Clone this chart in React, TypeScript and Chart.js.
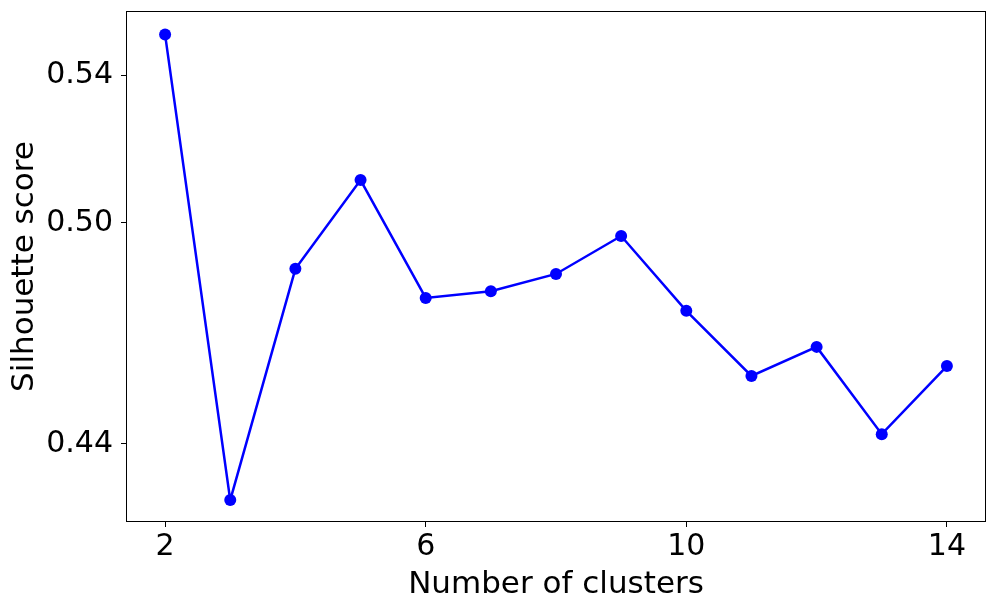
import React, { useEffect, useRef } from "react";
import { Chart, registerables } from "chart.js";

Chart.register(...registerables);

const clusters = [2, 3, 4, 5, 6, 7, 8, 9, 10, 11, 12, 13, 14];
const scores = [0.5511, 0.4247, 0.4875, 0.5116, 0.4796, 0.4814, 0.4861, 0.4964, 0.4761, 0.4584, 0.4663, 0.4426, 0.4611];
const xTicks = [2, 6, 10, 14];
const yTicks = [0.44, 0.5, 0.54];
const xTitle = "Number of clusters";
const yTitle = "Silhouette score";

const FONT = "'DejaVu Sans', sans-serif";

const framePlugin = {
  id: "frame",
  afterDraw(chart: any) {
    const { ctx, chartArea } = chart;
    ctx.save();
    ctx.strokeStyle = "#000";
    ctx.lineWidth = 1;
    ctx.strokeRect(
      Math.round(chartArea.left) + 0.5,
      Math.round(chartArea.top) + 0.5,
      Math.round(chartArea.right - chartArea.left) - 1,
      Math.round(chartArea.bottom - chartArea.top) - 1
    );
    ctx.restore();
  },
};

export default function App() {
  const ref = useRef<HTMLCanvasElement | null>(null);

  useEffect(() => {
    if (!ref.current) return;
    const chart = new Chart(ref.current, {
      type: "line",
      data: {
        datasets: [
          {
            data: clusters.map((c, i) => ({ x: c, y: scores[i] })),
            borderColor: "#0000ff",
            backgroundColor: "#0000ff",
            borderWidth: 2.5,
            pointRadius: 6,
            pointBackgroundColor: "#0000ff",
            pointBorderWidth: 0,
            tension: 0,
          },
        ],
      },
      options: {
        responsive: false,
        animation: false,
        layout: { padding: { top: 11, right: 11, left: 0, bottom: 0 } },
        plugins: { legend: { display: false }, tooltip: { enabled: false } },
        scales: {
          x: {
            type: "linear",
            min: 1.4,
            max: 14.6,
            afterBuildTicks: (scale: any) => {
              scale.ticks = xTicks.map((v) => ({ value: v }));
            },
            afterFit: (scale: any) => {
              scale.height = 89;
              scale.paddingLeft = 0;
              scale.paddingRight = 0;
            },
            grid: { drawOnChartArea: false, drawTicks: true, tickLength: 5, color: "#000" },
            border: { display: false },
            ticks: {
              color: "#000",
              font: { family: FONT, size: 30 },
              padding: 2,
              maxRotation: 0,
              callback: (v: any) => String(v),
            },
            title: {
              display: true,
              text: xTitle,
              color: "#000",
              font: { family: FONT, size: 31 },
              padding: { top: 0, bottom: 7 },
            },
          },
          y: {
            type: "linear",
            min: 0.41875,
            max: 0.5575,
            afterBuildTicks: (scale: any) => {
              scale.ticks = yTicks.map((v) => ({ value: v }));
            },
            afterFit: (scale: any) => {
              scale.width = 126;
              scale.paddingTop = 0;
              scale.paddingBottom = 0;
            },
            grid: { drawOnChartArea: false, drawTicks: true, tickLength: 5, color: "#000" },
            border: { display: false },
            ticks: {
              color: "#000",
              font: { family: FONT, size: 30 },
              padding: 8,
              callback: (v: any) => Number(v).toFixed(2),
            },
            title: {
              display: true,
              text: yTitle,
              color: "#000",
              font: { family: FONT, size: 31 },
              padding: { top: 6, bottom: 0 },
            },
          },
        },
      },
      plugins: [framePlugin],
    } as any);
    return () => chart.destroy();
  }, []);

  return (
    <div style={{ position: "fixed", left: 0, top: 0, width: 997, height: 611, background: "#fff" }}>
      <canvas ref={ref} width={997} height={611} style={{ display: "block" }} />
    </div>
  );
}
